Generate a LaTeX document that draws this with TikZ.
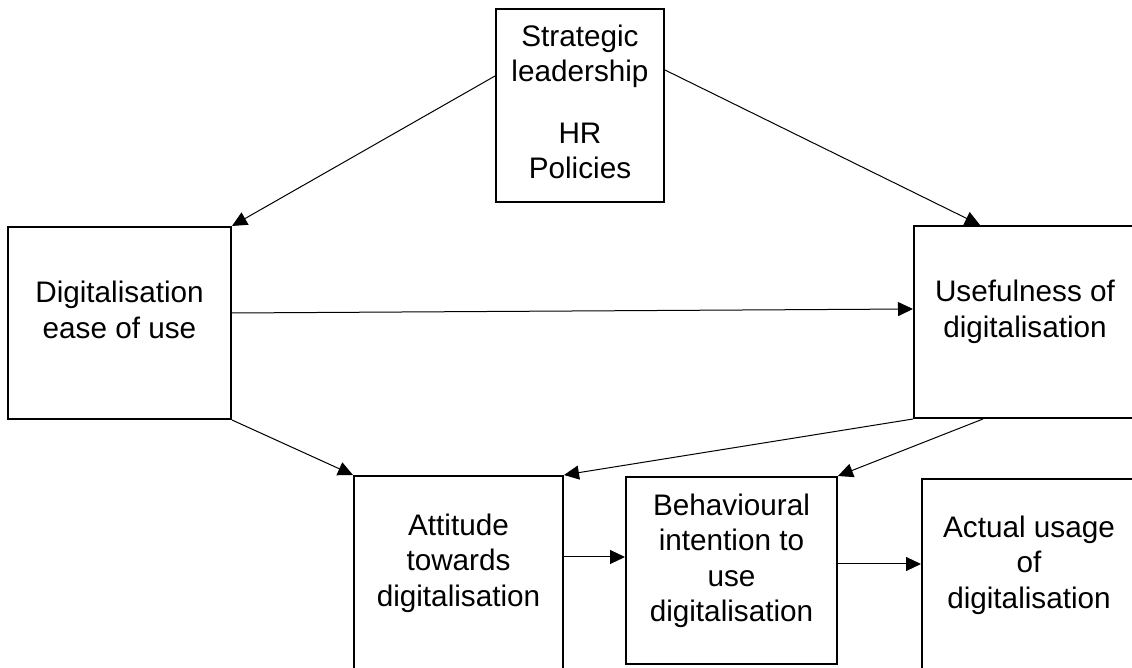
\documentclass[tikz,border=0pt]{standalone}
\usepackage{fontspec}
\setmainfont{Liberation Sans}
\usetikzlibrary{arrows.meta, positioning}

\begin{document}
\begin{tikzpicture}[x=0.5pt, y=-0.5pt,
        box/.style={rectangle, draw, line width=1pt, inner sep=0pt},
        txt/.style={align=center, inner sep=0pt, font=\fontsize{14.85pt}{17.75pt}\selectfont},
        link/.style={-{Triangle[length=7.5pt, width=7pt]}, line width=0.5pt}]
        \useasboundingbox (0,0) rectangle (1132,668);
        \clip (0,0) rectangle (1132,668);

        % boxes
        \node[box, minimum width=84pt, minimum height=96.5pt] (lead) at (580,105.5) {};
        \node[box, minimum width=111.5pt, minimum height=96pt] (ease) at (119.5,323) {};
        \node[box, minimum width=111pt, minimum height=96pt] (useful) at (1025,322) {};
        \node[box, minimum width=104.5pt, minimum height=112pt] (attitude) at (458.5,588) {};
        \node[box, minimum width=105.5pt, minimum height=93.5pt] (intention) at (731.5,570.5) {};
        \node[box, minimum width=107pt, minimum height=110.5pt] (usage) at (1029,589.5) {};

        % texts
        \node[txt] (leadtxt) at (580,102) {Strategic\\leadership\\[13pt]HR\\Policies};
        \node[txt] (easetxt) at (119.5,310) {Digitalisation\\ease of use};
        \node[txt] (usefultxt) at (1025,312) {Usefulness of\\digitalisation};
        \node[txt] (attitudetxt) at (458.5,563) {Attitude\\towards\\digitalisation};
        \node[txt] (intentiontxt) at (731.5,561) {Behavioural\\intention to\\use\\digitalisation};
        \node[txt] (usagetxt) at (1029,565) {Actual usage\\of\\digitalisation};

        \draw[link] ([yshift=14.75pt]lead.west) -- (ease.north east);
        \draw[link] ([yshift=17.75pt]lead.east) -- ([xshift=-22.5pt]useful.north);
        \draw[link] ([yshift=5pt]ease.east) -- ([yshift=6.5pt]useful.west);
        \draw[link] (ease.south east) -- (attitude.north west);
        \draw[link] (useful.south west) -- (attitude.north east);
        \draw[link] ([xshift=-21pt]useful.south) -- (intention.north east);
        \draw[link] ([yshift=15.5pt]attitude.east) -- ([yshift=6.75pt]intention.west);
        \draw[link] ([yshift=3.25pt]intention.east) -- ([yshift=12.75pt]usage.west);
    \end{tikzpicture}
\end{document}
